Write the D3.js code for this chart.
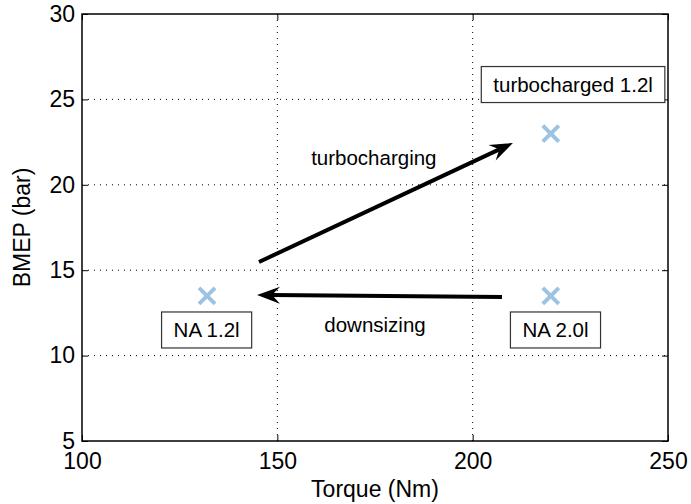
<!DOCTYPE html>
<html>
<head>
<meta charset="utf-8">
<script src="https://cdn.jsdelivr.net/npm/d3@7"></script>
<style>
  body { margin: 0; background: #fff; }
  text { font-family: "Liberation Sans", Arial, sans-serif; fill: #000; }
</style>
</head>
<body>
<div id="chart"></div>
<script>
// chart size and plot box
var width = 691,
    height = 504;
var margin = {top: 14, right: 23, bottom: 63, left: 82};

// data
var xTicks = [100, 150, 200, 250];
var yTicks = [5, 10, 15, 20, 25, 30];
var engineNames = ["NA 1.2l", "NA 2.0l", "turbocharged 1.2l"];
var engineTorque = [132, 220, 220];
var engineBmep = [13.5, 13.5, 23];
// label box centres (data units)
var labelX = [131.9, 221.2, 225.7];
var labelY = [11.5, 11.5, 25.87];
// arrows: [x0, y0, x1, y1]
var arrowNames = ["turbocharging", "downsizing"];
var arrowFrom = [[145.3, 15.48], [207.5, 13.43]];
var arrowTo = [[210.3, 22.45], [144.8, 13.55]];
var arrowTextPos = [[174.7, 21.16], [175, 11.38]];

var x = d3.scaleLinear().domain([100, 250]).range([margin.left, width - margin.right]);
var y = d3.scaleLinear().domain([5, 30]).range([height - margin.bottom, margin.top]);

var svg = d3.select("#chart").append("svg")
    .attr("width", width)
    .attr("height", height);

// grid (dotted)
svg.selectAll(".gx").data(xTicks.slice(1, -1)).enter().append("line")
    .attr("x1", function(d) { return x(d); }).attr("x2", function(d) { return x(d); })
    .attr("y1", y(5)).attr("y2", y(30))
    .attr("stroke", "#000").attr("stroke-width", 1).attr("stroke-dasharray", "1,5");
svg.selectAll(".gy").data(yTicks.slice(1, -1)).enter().append("line")
    .attr("y1", function(d) { return y(d); }).attr("y2", function(d) { return y(d); })
    .attr("x1", x(100)).attr("x2", x(250))
    .attr("stroke", "#000").attr("stroke-width", 1).attr("stroke-dasharray", "1,5");

// axes, ticks pointing inwards, mirrored on top and right
var tl = 6;
svg.append("g").attr("transform", "translate(0," + y(5) + ")")
    .call(d3.axisBottom(x).tickValues(xTicks).tickSizeInner(-tl).tickSizeOuter(0).tickPadding(10))
    .call(function(g) {
      g.select(".domain").remove();
      g.selectAll("text").attr("font-size", 23).attr("font-family", "Liberation Sans").attr("dy", "0.78em");
    });
svg.append("g").attr("transform", "translate(0," + y(30) + ")")
    .call(d3.axisTop(x).tickValues(xTicks).tickSizeInner(-tl).tickSizeOuter(0).tickFormat(""))
    .call(function(g) { g.select(".domain").remove(); });
svg.append("g").attr("transform", "translate(" + x(100) + ",0)")
    .call(d3.axisLeft(y).tickValues(yTicks).tickSizeInner(-tl).tickSizeOuter(0).tickPadding(7))
    .call(function(g) {
      g.select(".domain").remove();
      g.selectAll("text").attr("font-size", 23).attr("font-family", "Liberation Sans");
    });
svg.append("g").attr("transform", "translate(" + x(250) + ",0)")
    .call(d3.axisRight(y).tickValues(yTicks).tickSizeInner(-tl).tickSizeOuter(0).tickFormat(""))
    .call(function(g) { g.select(".domain").remove(); });

// box
svg.append("rect")
    .attr("x", x(100)).attr("y", y(30))
    .attr("width", x(250) - x(100)).attr("height", y(5) - y(30))
    .attr("fill", "none").attr("stroke", "#000").attr("stroke-width", 1.5);

// axis labels
svg.append("text")
    .attr("x", (x(100) + x(250)) / 2).attr("y", 497)
    .attr("text-anchor", "middle").attr("font-size", 23)
    .text("Torque (Nm)");
svg.append("text")
    .attr("transform", "translate(30," + (y(5) + y(30)) / 2 + ") rotate(-90)")
    .attr("text-anchor", "middle").attr("font-size", 23)
    .text("BMEP (bar)");

// markers
var s = 8;
var marks = svg.selectAll(".mark").data(engineTorque).enter().append("g")
    .attr("transform", function(d, i) { return "translate(" + x(d) + "," + y(engineBmep[i]) + ")"; });
marks.append("line").attr("x1", -s).attr("y1", -s).attr("x2", s).attr("y2", s);
marks.append("line").attr("x1", -s).attr("y1", s).attr("x2", s).attr("y2", -s);
marks.selectAll("line").attr("stroke", "#9dc3e2").attr("stroke-width", 4);

// label boxes
var labels = svg.selectAll(".lab").data(engineNames).enter().append("g")
    .attr("transform", function(d, i) { return "translate(" + x(labelX[i]) + "," + y(labelY[i]) + ")"; });
labels.append("rect");
labels.append("text")
    .attr("text-anchor", "middle").attr("dy", "0.36em").attr("font-size", 20.5)
    .text(function(d) { return d; });
labels.each(function() {
  var g = d3.select(this);
  var w = g.select("text").node().getComputedTextLength();
  g.select("rect")
    .attr("x", -w / 2 - 12).attr("y", -18)
    .attr("width", w + 24).attr("height", 36)
    .attr("fill", "#fff").attr("stroke", "#333").attr("stroke-width", 1.2);
});

// arrows
arrowNames.forEach(function(name, i) {
  var x0 = x(arrowFrom[i][0]), y0 = y(arrowFrom[i][1]);
  var x1 = x(arrowTo[i][0]), y1 = y(arrowTo[i][1]);
  var ang = Math.atan2(y1 - y0, x1 - x0);
  var hl = 23, hw = 8.5, notch = 15;
  var g = svg.append("g")
      .attr("transform", "translate(" + x1 + "," + y1 + ") rotate(" + (ang * 180 / Math.PI) + ")");
  var len = Math.hypot(x1 - x0, y1 - y0);
  g.append("line")
      .attr("x1", -len).attr("y1", 0).attr("x2", -notch).attr("y2", 0)
      .attr("stroke", "#000").attr("stroke-width", 4);
  g.append("path")
      .attr("d", "M0,0 L" + (-hl) + "," + (-hw) + " L" + (-notch) + ",0 L" + (-hl) + "," + hw + "Z")
      .attr("fill", "#000");
  svg.append("text")
      .attr("x", x(arrowTextPos[i][0])).attr("y", y(arrowTextPos[i][1]))
      .attr("text-anchor", "middle").attr("font-size", 20.5)
      .text(name);
});
</script>
</body>
</html>
